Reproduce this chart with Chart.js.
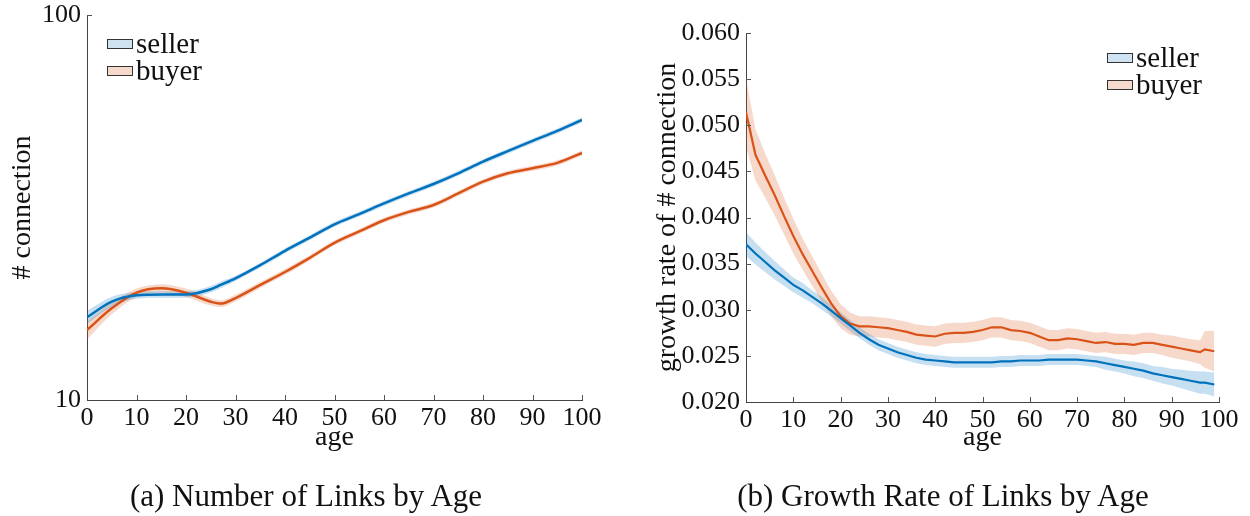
<!DOCTYPE html>
<html lang="en">
<head>
<meta charset="UTF-8">
<title>Links by Age</title>
<script src="https://cdn.jsdelivr.net/npm/chart.js@4.4.1/dist/chart.umd.min.js"></script>
<style>
  body { margin: 0; background: #fff; width: 1250px; height: 516px; position: relative; overflow: hidden; }
  canvas { position: absolute; top: 0; }
  .cap { position: absolute; top: 478px; font-family: "Liberation Serif", serif; font-size: 31px; color: #111; white-space: nowrap; transform: translateX(-50%); }
</style>
</head>
<body>
<canvas id="linksChart" width="620" height="516" style="left:0"></canvas>
<canvas id="growthChart" width="625" height="516" style="left:625px"></canvas>
<div class="cap" style="left:306px">(a) Number of Links by Age</div>
<div class="cap" style="left:943px">(b) Growth Rate of Links by Age</div>
<script>
// (a) number of links, log scale
const agesA = [0, 5, 10, 15, 20, 25, 27, 30, 35, 40, 45, 50, 55, 60, 65, 70, 75, 80, 85, 90, 95, 100];
const sellerLinks = [16.4, 18.0, 18.7, 18.8, 18.8, 19.4, 19.9, 20.7, 22.4, 24.4, 26.4, 28.6, 30.4, 32.4, 34.4, 36.4, 38.8, 41.6, 44.3, 47.1, 50.0, 53.4];
const buyerLinks = [15.2, 17.3, 19.0, 19.5, 19.0, 18.0, 17.8, 18.4, 19.9, 21.5, 23.4, 25.6, 27.4, 29.3, 30.8, 32.1, 34.4, 36.9, 38.8, 40.0, 41.3, 43.8];
// relative half-width of the shaded band
const sellerLinksErr = [0.04, 0.03, 0.02, 0.02, 0.02, 0.02, 0.02, 0.015, 0.015, 0.015, 0.015, 0.015, 0.015, 0.015, 0.015, 0.015, 0.015, 0.015, 0.015, 0.015, 0.015, 0.015];
const buyerLinksErr = [0.055, 0.035, 0.025, 0.025, 0.025, 0.022, 0.02, 0.02, 0.018, 0.018, 0.015, 0.015, 0.015, 0.015, 0.015, 0.015, 0.015, 0.015, 0.015, 0.015, 0.015, 0.015];
const linksTicks = [10, 100];

// (b) growth rate
const agesB = [0, 2, 4, 6, 8, 10, 12, 14, 16, 18, 20, 22, 24, 26, 28, 30, 32, 34, 36, 38, 40, 42, 44, 46, 48, 50, 52, 54, 56, 58, 60, 62, 64, 66, 68, 70, 72, 74, 76, 78, 80, 82, 84, 86, 88, 90, 92, 94, 96, 97, 99];
const buyerGrowth = [0.0514, 0.0468, 0.0446, 0.0425, 0.0402, 0.0380, 0.0360, 0.0342, 0.0324, 0.0307, 0.0293, 0.0285, 0.0282, 0.0282, 0.0281, 0.0280, 0.0278, 0.0276, 0.0273, 0.0272, 0.0271, 0.0274, 0.0275, 0.0275, 0.0276, 0.0278, 0.0281, 0.0281, 0.0278, 0.0277, 0.0275, 0.0271, 0.0267, 0.0267, 0.0269, 0.0268, 0.0266, 0.0264, 0.0265, 0.0263, 0.0263, 0.0262, 0.0264, 0.0264, 0.0262, 0.0260, 0.0258, 0.0256, 0.0254, 0.0257, 0.0255];
const buyerGrowthErr = [0.0037, 0.0028, 0.0024, 0.0022, 0.0020, 0.0019, 0.0017, 0.0016, 0.0015, 0.0014, 0.0013, 0.0012, 0.0011, 0.0011, 0.0011, 0.0011, 0.0011, 0.0011, 0.0011, 0.0011, 0.0011, 0.0011, 0.0011, 0.0011, 0.0011, 0.0011, 0.0011, 0.0011, 0.0011, 0.0011, 0.0011, 0.0011, 0.0011, 0.0011, 0.0011, 0.0011, 0.0011, 0.0011, 0.0011, 0.0011, 0.0011, 0.0011, 0.0011, 0.0011, 0.0011, 0.0012, 0.0012, 0.0012, 0.0013, 0.0020, 0.0022];
const sellerGrowth = [0.0371, 0.0361, 0.0352, 0.0343, 0.0335, 0.0327, 0.0321, 0.0314, 0.0307, 0.0299, 0.0291, 0.0283, 0.0275, 0.0268, 0.0262, 0.0258, 0.0254, 0.0251, 0.0248, 0.0246, 0.0245, 0.0244, 0.0243, 0.0243, 0.0243, 0.0243, 0.0243, 0.0244, 0.0244, 0.0245, 0.0245, 0.0245, 0.0246, 0.0246, 0.0246, 0.0246, 0.0245, 0.0244, 0.0242, 0.0240, 0.0238, 0.0236, 0.0234, 0.0231, 0.0229, 0.0227, 0.0225, 0.0223, 0.0221, 0.0221, 0.0219];
const sellerGrowthErr = [0.0013, 0.0012, 0.0011, 0.0010, 0.0009, 0.0008, 0.0008, 0.0007, 0.0007, 0.0006, 0.0006, 0.0006, 0.0006, 0.0006, 0.0006, 0.0006, 0.0006, 0.0006, 0.0006, 0.0006, 0.0006, 0.0006, 0.0006, 0.0006, 0.0006, 0.0006, 0.0006, 0.0006, 0.0006, 0.0006, 0.0006, 0.0006, 0.0006, 0.0006, 0.0006, 0.0006, 0.0006, 0.0006, 0.0007, 0.0007, 0.0007, 0.0008, 0.0008, 0.0008, 0.0009, 0.0009, 0.0010, 0.0011, 0.0012, 0.0012, 0.0013];

const seriesNames = ['seller', 'buyer'];
const BLUE = '#0072BD', ORANGE = '#D95319';
const BLUE_BAND = 'rgba(0,114,189,0.22)', ORANGE_BAND = 'rgba(217,83,25,0.22)';
const FONT = '"Liberation Serif", serif';

function pts(xs, ys) { return xs.map((x, i) => ({ x: x, y: ys[i] })); }

// inward tick marks on both axes
const inwardTicks = {
  id: 'inwardTicks',
  afterDatasetsDraw(chart) {
    const ctx = chart.ctx, x = chart.scales.x, y = chart.scales.y, a = chart.chartArea;
    ctx.save();
    ctx.strokeStyle = '#555';
    ctx.lineWidth = 1;
    ctx.beginPath();
    x.ticks.forEach(t => {
      if (t.value === x.min) return;
      const px = Math.round(x.getPixelForValue(t.value)) + 0.5;
      ctx.moveTo(px, a.bottom); ctx.lineTo(px, a.bottom - 5);
    });
    y.ticks.forEach(t => {
      if (t.value === y.min) return;
      const py = Math.round(y.getPixelForValue(t.value)) + 0.5;
      ctx.moveTo(a.left, py); ctx.lineTo(a.left + 5, py);
    });
    ctx.stroke();
    ctx.restore();
  }
};

// legend with outlined light boxes
const boxLegend = {
  id: 'boxLegend',
  afterDraw(chart, args, opts) {
    const ctx = chart.ctx;
    ctx.save();
    ctx.font = '29px ' + FONT;
    ctx.textBaseline = 'alphabetic';
    opts.items.forEach((it, i) => {
      const y0 = opts.y + i * 27;
      ctx.fillStyle = it.fill;
      ctx.fillRect(opts.x, y0, 25, 9);
      ctx.strokeStyle = '#333';
      ctx.lineWidth = 1;
      ctx.strokeRect(opts.x + 0.5, y0 + 0.5, 25, 9);
      ctx.fillStyle = '#111';
      ctx.fillText(it.text, opts.x + 29, y0 + 13.5);
    });
    ctx.restore();
  }
};

function lineSet(label, xs, ys, color, width, smooth) {
  return { label: label, data: pts(xs, ys), borderColor: color, borderWidth: width, pointRadius: 0, fill: false,
    tension: smooth ? 0.4 : 0, cubicInterpolationMode: smooth ? 'monotone' : 'default' };
}
function bandSets(xs, lo, hi, color, smooth) {
  const base = { pointRadius: 0, borderWidth: 0, tension: smooth ? 0.4 : 0, cubicInterpolationMode: smooth ? 'monotone' : 'default' };
  return [
    Object.assign({ label: '_lo', data: pts(xs, lo), fill: false }, base),
    Object.assign({ label: '_hi', data: pts(xs, hi), fill: '-1', backgroundColor: color }, base)
  ];
}

function axisCommon(titleText) {
  return {
    border: { display: true, color: '#444', width: 1 },
    grid: { display: false, drawTicks: false },
    title: { display: true, text: titleText, color: '#111', font: { family: FONT, size: 28 }, padding: 0 }
  };
}

// chart (a)
const sLo = sellerLinks.map((v, i) => v * (1 - sellerLinksErr[i]));
const sHi = sellerLinks.map((v, i) => v * (1 + sellerLinksErr[i]));
const bLo = buyerLinks.map((v, i) => v * (1 - buyerLinksErr[i]));
const bHi = buyerLinks.map((v, i) => v * (1 + buyerLinksErr[i]));

new Chart(document.getElementById('linksChart'), {
  type: 'line',
  data: {
    datasets: [
      lineSet(seriesNames[0], agesA, sellerLinks, BLUE, 2.5, true),
      lineSet(seriesNames[1], agesA, buyerLinks, ORANGE, 2.5, true),
      ...bandSets(agesA, sLo, sHi, BLUE_BAND, true),
      ...bandSets(agesA, bLo, bHi, ORANGE_BAND, true)
    ]
  },
  options: {
    responsive: false,
    animation: false,
    layout: { padding: { left: 6, top: 15, right: 38, bottom: 62 } },
    plugins: {
      legend: { display: false },
      tooltip: { enabled: false },
      boxLegend: { x: 107, y: 39, items: [
        { text: seriesNames[0], fill: '#cfe3f1' },
        { text: seriesNames[1], fill: '#f6d9cd' }
      ] }
    },
    scales: {
      x: Object.assign(axisCommon('age'), {
        type: 'linear', min: 0, max: 100,
        ticks: { stepSize: 10, padding: 3, color: '#111', font: { family: FONT, size: 26 }, maxRotation: 0 },
        afterFit: s => { s.height = 54; }
      }),
      y: Object.assign(axisCommon('# connection'), {
        type: 'logarithmic', min: 10, max: 100,
        afterBuildTicks: s => { s.ticks = linksTicks.map(v => ({ value: v })); },
        ticks: { padding: 6, color: '#111', font: { family: FONT, size: 26 }, callback: v => String(v) },
        afterFit: s => { s.width = 81; s.paddingTop = 0; s.paddingBottom = 0; }
      })
    }
  },
  plugins: [inwardTicks, boxLegend]
});

// chart (b)
const sgLo = sellerGrowth.map((v, i) => v - sellerGrowthErr[i]);
const sgHi = sellerGrowth.map((v, i) => v + sellerGrowthErr[i]);
const bgLo = buyerGrowth.map((v, i) => v - buyerGrowthErr[i]);
const bgHi = buyerGrowth.map((v, i) => v + buyerGrowthErr[i]);

new Chart(document.getElementById('growthChart'), {
  type: 'line',
  data: {
    datasets: [
      lineSet(seriesNames[0], agesB, sellerGrowth, BLUE, 2.2, false),
      lineSet(seriesNames[1], agesB, buyerGrowth, ORANGE, 2.2, false),
      ...bandSets(agesB, sgLo, sgHi, BLUE_BAND, false),
      ...bandSets(agesB, bgLo, bgHi, ORANGE_BAND, false)
    ]
  },
  options: {
    responsive: false,
    animation: false,
    layout: { padding: { left: 26, top: 33, right: 31, bottom: 62 } },
    plugins: {
      legend: { display: false },
      tooltip: { enabled: false },
      boxLegend: { x: 482, y: 53, items: [
        { text: seriesNames[0], fill: '#cfe3f1' },
        { text: seriesNames[1], fill: '#f6d9cd' }
      ] }
    },
    scales: {
      x: Object.assign(axisCommon('age'), {
        type: 'linear', min: 0, max: 100,
        ticks: { stepSize: 10, padding: 3, color: '#111', font: { family: FONT, size: 26 }, maxRotation: 0 },
        afterFit: s => { s.height = 52; }
      }),
      y: Object.assign(axisCommon('growth rate of # connection'), {
        type: 'linear', min: 0.02, max: 0.06,
        ticks: { stepSize: 0.005, padding: 6, color: '#111', font: { family: FONT, size: 26 }, callback: v => v.toFixed(3) },
        afterFit: s => { s.width = 95; }
      })
    }
  },
  plugins: [inwardTicks, boxLegend]
});
</script>
</body>
</html>
